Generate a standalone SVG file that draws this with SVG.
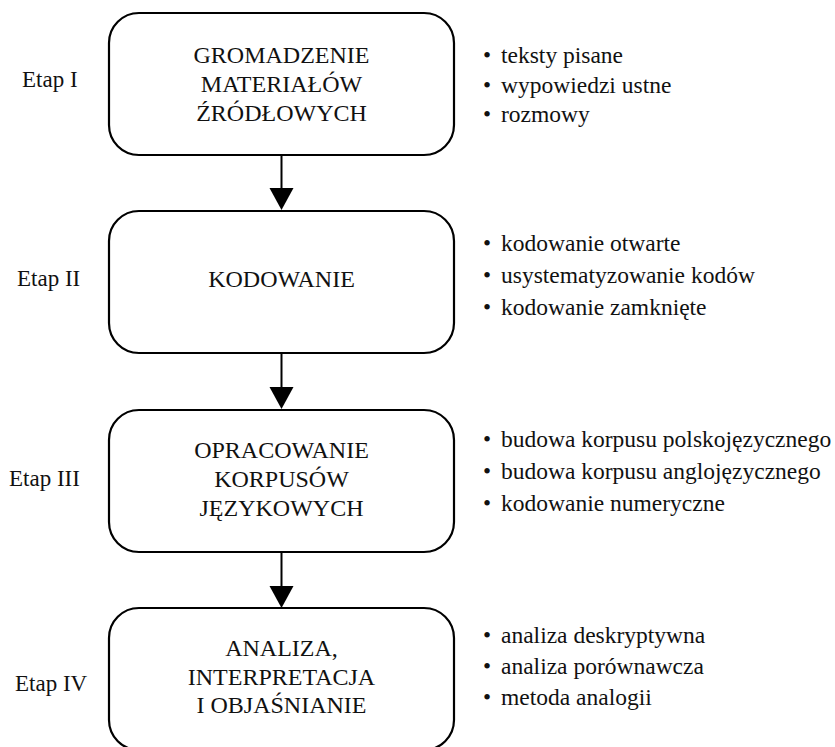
<svg xmlns="http://www.w3.org/2000/svg" width="835" height="747" viewBox="0 0 835 747">
<style>
text{font-family:'Liberation Serif','Times New Roman',Times,'DejaVu Serif',serif;font-size:23px;fill:#111}
.box{fill:#fff;stroke:#000;stroke-width:2.2}
.c{text-anchor:middle;font-size:24px}
.b{font-size:23.5px}
.conn line{stroke:#000;stroke-width:2}
</style>
<g id="connectors" class="conn">
<line x1="281.5" y1="155" x2="281.5" y2="188"/>
<path d="M269.5,188 L293.5,188 L281.5,210 Z" fill="#000"/>
<line x1="281.5" y1="353" x2="281.5" y2="387"/>
<path d="M269.5,387 L293.5,387 L281.5,409 Z" fill="#000"/>
<line x1="281.5" y1="552" x2="281.5" y2="586"/>
<path d="M269.5,586 L293.5,586 L281.5,608 Z" fill="#000"/>
</g>
<g id="etap1">
<rect class="box" x="109" y="13" width="345" height="142" rx="30"/>
<text class="c" x="281.5" y="63">GROMADZENIE</text>
<text class="c" x="281.5" y="92">MATERIAŁÓW</text>
<text class="c" x="281.5" y="121">ŹRÓDŁOWYCH</text>
<text x="22" y="87">Etap I</text>
<text x="483" y="63">•</text><text class="b" x="501" y="63">teksty pisane</text>
<text x="483" y="93">•</text><text class="b" x="501" y="93">wypowiedzi ustne</text>
<text x="483" y="122">•</text><text class="b" x="501" y="122">rozmowy</text>
</g>
<g id="etap2">
<rect class="box" x="109" y="211" width="345" height="142" rx="30"/>
<text class="c" x="281.5" y="287">KODOWANIE</text>
<text x="17" y="286">Etap II</text>
<text x="483" y="251">•</text><text class="b" x="501" y="251">kodowanie otwarte</text>
<text x="483" y="283">•</text><text class="b" x="501" y="283">usystematyzowanie kodów</text>
<text x="483" y="315">•</text><text class="b" x="501" y="315">kodowanie zamknięte</text>
</g>
<g id="etap3">
<rect class="box" x="109" y="410" width="345" height="142" rx="30"/>
<text class="c" x="281.5" y="458">OPRACOWANIE</text>
<text class="c" x="281.5" y="487">KORPUSÓW</text>
<text class="c" x="281.5" y="516">JĘZYKOWYCH</text>
<text x="9" y="486">Etap III</text>
<text x="483" y="447">•</text><text class="b" x="501" y="447">budowa korpusu polskojęzycznego</text>
<text x="483" y="479">•</text><text class="b" x="501" y="479">budowa korpusu anglojęzycznego</text>
<text x="483" y="511">•</text><text class="b" x="501" y="511">kodowanie numeryczne</text>
</g>
<g id="etap4">
<rect class="box" x="109" y="608" width="345" height="142" rx="30"/>
<text class="c" x="281.5" y="656">ANALIZA,</text>
<text class="c" x="281.5" y="685">INTERPRETACJA</text>
<text class="c" x="281.5" y="713">I OBJAŚNIANIE</text>
<text x="15" y="691">Etap IV</text>
<text x="483" y="643">•</text><text class="b" x="501" y="643">analiza deskryptywna</text>
<text x="483" y="674">•</text><text class="b" x="501" y="674">analiza porównawcza</text>
<text x="483" y="705">•</text><text class="b" x="501" y="705">metoda analogii</text>
</g>
</svg>
